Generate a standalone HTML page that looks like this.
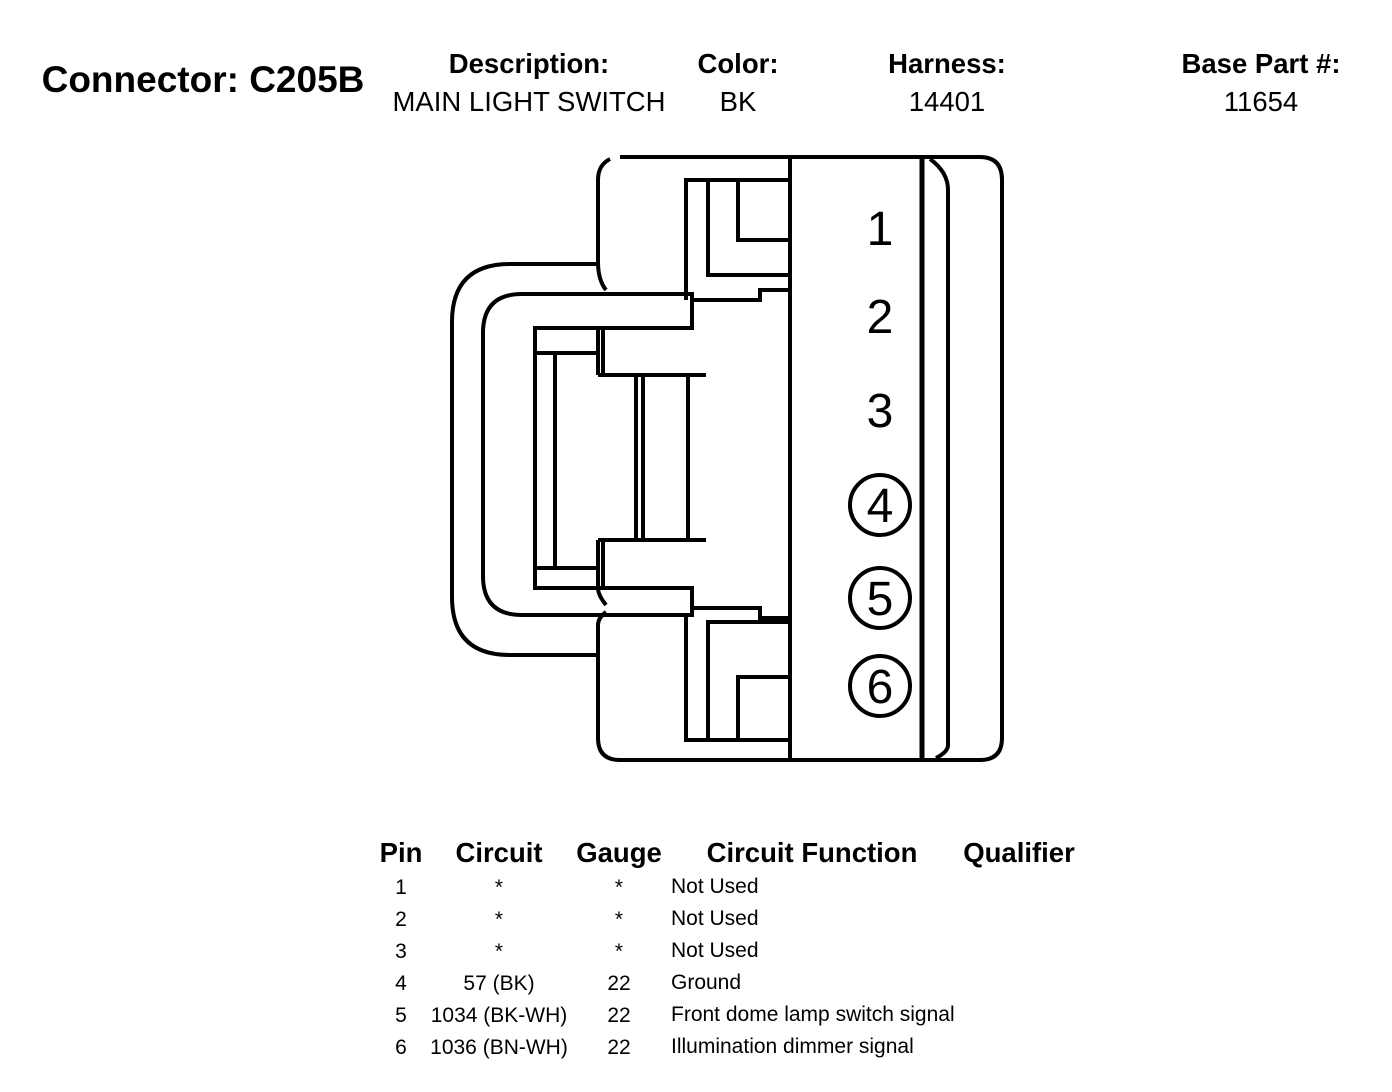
<!DOCTYPE html>
<html><head><style>
body{margin:0;background:#fff;width:1392px;height:1092px;overflow:hidden;position:relative;font-family:"Liberation Sans",Arial,sans-serif;color:#000}
.t{position:absolute;white-space:nowrap;transform:translate(-50%,-50%)}
.b{font-weight:bold}
.r{font-size:21px}
.f{position:absolute;left:671px;font-size:21px;white-space:nowrap}
</style></head><body>
<div class="t b" style="left:203px;top:80px;font-size:37px">Connector: C205B</div>
<div class="t b" style="left:529px;top:64px;font-size:27.5px">Description:</div>
<div class="t" style="left:529px;top:102px;font-size:27.5px">MAIN LIGHT SWITCH</div>
<div class="t b" style="left:738px;top:64px;font-size:27.5px">Color:</div>
<div class="t" style="left:738px;top:102px;font-size:27.5px">BK</div>
<div class="t b" style="left:947px;top:64px;font-size:27.5px">Harness:</div>
<div class="t" style="left:947px;top:102px;font-size:27.5px">14401</div>
<div class="t b" style="left:1261px;top:64px;font-size:27.5px">Base Part #:</div>
<div class="t" style="left:1261px;top:102px;font-size:27.5px">11654</div>

<svg width="1392" height="1092" style="position:absolute;left:0;top:0" fill="none" stroke="#000" stroke-width="4">
<path d="M620 157 H980 Q1002 157 1002 180 V738 Q1002 760 980 760 H620 Q598 760 598 738 V625 Q598 618 606 612"/>
<path d="M606 605 Q598 595 598 588"/>
<path d="M610 159 Q598 165 598 180 V262 Q598 280 606 290"/>
<path d="M598 264 H510 Q452 264 452 322 V597 Q452 655 510 655 H598"/>
<path d="M692 294 H522 Q483 294 483 333 V576 Q483 615 522 615 H692 V588 H535 V328 H692 Z"/>
<path d="M535 353 H598 M535 568 H598 M555 353 V568 M598 328 V375 M603 328 V375 M598 540 V588 M603 540 V588"/>
<path d="M598 375 H706 M598 540 H706 M636 375 V540 M643 375 V540 M688 375 V540"/>
<path d="M790 157 V760"/>
<path d="M790 180 H686 V300 M708 180 V275 H790 M738 180 V240 H790"/>
<path d="M692 300 H760 V290 H790"/>
<path d="M692 608 H760 V618 H790"/>
<path d="M686 615 V740 H790 M708 740 V622 H790 M738 740 V677 H790"/>
<path d="M922 157 V760" stroke-width="5"/>
<path d="M930 159 Q948 172 948 190 V745 Q948 752 936 758"/>
<circle cx="880" cy="505" r="30"/>
<circle cx="880" cy="598" r="30"/>
<circle cx="880" cy="686" r="30"/>
<g fill="#000" stroke="none" font-family="Liberation Sans, Arial, sans-serif" font-size="48" text-anchor="middle">
<text x="880" y="245">1</text><text x="880" y="333">2</text><text x="880" y="427">3</text>
<text x="880" y="522">4</text><text x="880" y="615">5</text><text x="880" y="703">6</text>
</g>
</svg>

<div class="t b" style="left:401px;top:853px;font-size:27.5px">Pin</div>
<div class="t b" style="left:499px;top:853px;font-size:27.5px">Circuit</div>
<div class="t b" style="left:619px;top:853px;font-size:27.5px">Gauge</div>
<div class="t b" style="left:812px;top:853px;font-size:27.5px">Circuit Function</div>
<div class="t b" style="left:1019px;top:853px;font-size:27.5px">Qualifier</div>

<div class="t r" style="left:401px;top:888px">1</div><div class="t r" style="left:499px;top:888px">*</div><div class="t r" style="left:619px;top:888px">*</div><div class="f" style="top:875px">Not Used</div>
<div class="t r" style="left:401px;top:920px">2</div><div class="t r" style="left:499px;top:920px">*</div><div class="t r" style="left:619px;top:920px">*</div><div class="f" style="top:907px">Not Used</div>
<div class="t r" style="left:401px;top:952px">3</div><div class="t r" style="left:499px;top:952px">*</div><div class="t r" style="left:619px;top:952px">*</div><div class="f" style="top:939px">Not Used</div>
<div class="t r" style="left:401px;top:984px">4</div><div class="t r" style="left:499px;top:984px">57 (BK)</div><div class="t r" style="left:619px;top:984px">22</div><div class="f" style="top:971px">Ground</div>
<div class="t r" style="left:401px;top:1016px">5</div><div class="t r" style="left:499px;top:1016px">1034 (BK-WH)</div><div class="t r" style="left:619px;top:1016px">22</div><div class="f" style="top:1003px">Front dome lamp switch signal</div>
<div class="t r" style="left:401px;top:1048px">6</div><div class="t r" style="left:499px;top:1048px">1036 (BN-WH)</div><div class="t r" style="left:619px;top:1048px">22</div><div class="f" style="top:1035px">Illumination dimmer signal</div>
</body></html>
